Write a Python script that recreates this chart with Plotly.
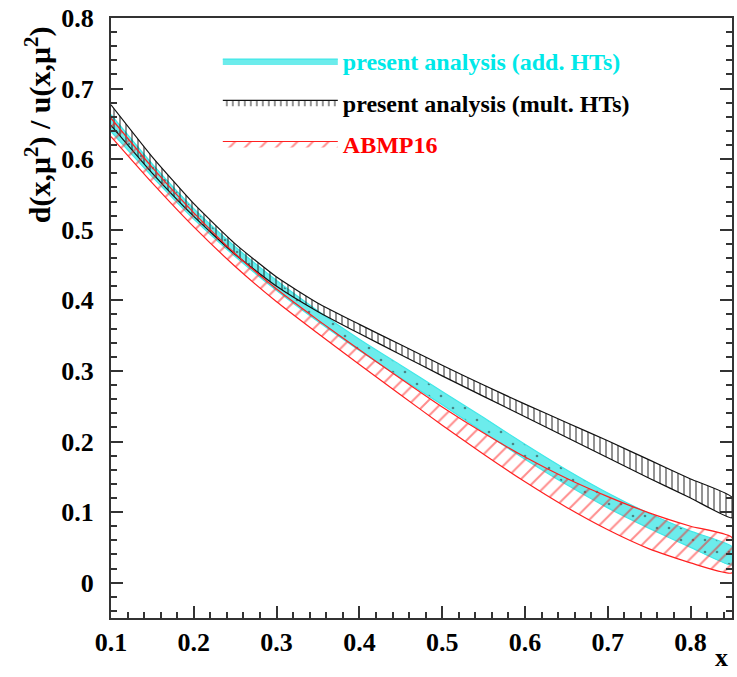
import plotly.graph_objects as go

# ---- data ----
x_vals = [0.10, 0.15, 0.20, 0.25, 0.30, 0.35, 0.40, 0.45, 0.50, 0.55, 0.60, 0.65, 0.70, 0.75, 0.80, 0.85]

add_hi = [0.663, 0.593, 0.530, 0.476, 0.428, 0.385, 0.345, 0.308, 0.271, 0.234, 0.196, 0.160, 0.127, 0.098, 0.073, 0.051]
add_lo = [0.639, 0.575, 0.515, 0.462, 0.414, 0.370, 0.329, 0.290, 0.252, 0.213, 0.175, 0.139, 0.106, 0.077, 0.050, 0.025]

mult_hi = [0.677, 0.603, 0.537, 0.480, 0.433, 0.396, 0.366, 0.337, 0.308, 0.280, 0.253, 0.227, 0.201, 0.174, 0.147, 0.121]
mult_lo = [0.648, 0.580, 0.519, 0.465, 0.420, 0.384, 0.353, 0.323, 0.293, 0.264, 0.235, 0.206, 0.177, 0.148, 0.120, 0.092]

abmp_hi = [0.658, 0.588, 0.524, 0.466, 0.416, 0.372, 0.330, 0.289, 0.249, 0.212, 0.178, 0.148, 0.122, 0.099, 0.080, 0.064]
abmp_lo = [0.632, 0.566, 0.504, 0.448, 0.398, 0.353, 0.309, 0.266, 0.223, 0.182, 0.143, 0.107, 0.075, 0.048, 0.028, 0.014]

names = ["present analysis (add. HTs)", "present analysis (mult. HTs)", "ABMP16"]
x_ticks = [0.1, 0.2, 0.3, 0.4, 0.5, 0.6, 0.7, 0.8]
y_ticks = [0, 0.1, 0.2, 0.3, 0.4, 0.5, 0.6, 0.7, 0.8]

FONT = "Liberation Serif, Times New Roman, Times, serif"

def band(hi, lo, name, textcolor, line_color, pattern, fillcolor, group):
    return go.Scatter(
        x=x_vals + x_vals[::-1],
        y=hi + lo[::-1],
        fill="toself",
        mode="lines",
        line=dict(color=line_color, width=1.2, shape="spline", smoothing=0.5),
        fillcolor=fillcolor,
        fillpattern=pattern,
        name=f"<span style='color:{textcolor}'>{name}</span>",
        legendgroup=group,
        hoverinfo="skip",
    )

fig = go.Figure()
fig.add_trace(band(add_hi, add_lo, names[0], "#00e8e8", "#40e8e8",
                   dict(shape=".", fgcolor="#222222", bgcolor="#6cecec", size=12, solidity=0.04),
                   "#6cecec", "a"))
fig.add_trace(band(mult_hi, mult_lo, names[1], "black", "#111111",
                   dict(shape="|", fgcolor="#111111", bgcolor="rgba(255,255,255,0)", size=6, solidity=0.3),
                   "rgba(255,255,255,0)", "b"))
fig.add_trace(band(abmp_hi, abmp_lo, names[2], "#ff0000", "#ff2020",
                   dict(shape="/", fgcolor="#ff1a1a", bgcolor="rgba(255,255,255,0)", size=11, solidity=0.18),
                   "rgba(255,255,255,0)", "c"))

axis_common = dict(
    showgrid=False, zeroline=False,
    showline=True, linecolor="#333333", linewidth=2,
    ticks="inside", ticklen=12, tickwidth=1.5, tickcolor="#333333",
    tickfont=dict(family=FONT, size=26, color="black", weight="bold"),
)

fig.update_layout(
    width=737, height=677,
    margin=dict(l=111, r=3, t=18, b=59),
    paper_bgcolor="white", plot_bgcolor="white",
    showlegend=True,
    legend=dict(
        x=0.172, y=0.965, xanchor="left", yanchor="top",
        bgcolor="rgba(0,0,0,0)",
        font=dict(family=FONT, size=24, color="black", weight="bold"),
        itemwidth=115, tracegroupgap=7,
    ),
    xaxis=dict(range=[0.1, 0.85], tickvals=x_ticks, ticktext=[str(v) for v in x_ticks],
               mirror=True, ticklabelstandoff=0,
               minor=dict(dtick=0.02, ticklen=6, ticks="inside", tickcolor="#333333"),
               **axis_common),
    yaxis=dict(range=[-0.05, 0.8], tickvals=y_ticks, ticktext=["0"] + [str(v) for v in y_ticks[1:]],
               mirror="ticks", ticklabelstandoff=10,
               minor=dict(dtick=0.02, ticklen=6, ticks="inside", tickcolor="#333333"),
               **axis_common),
    annotations=[
        dict(text="d(x,μ<sup>2</sup>) / u(x,μ<sup>2</sup>)", textangle=-90,
             xref="paper", yref="paper", x=-0.117, y=0.822, xanchor="center", yanchor="middle",
             showarrow=False, font=dict(family=FONT, size=30, color="black", weight="bold")),
        dict(text="x", xref="paper", yref="paper", x=0.983, y=-0.066,
             xanchor="center", yanchor="middle", showarrow=False,
             font=dict(family=FONT, size=26, color="black", weight="bold")),
    ],
)

fig.write_html("out.html")
